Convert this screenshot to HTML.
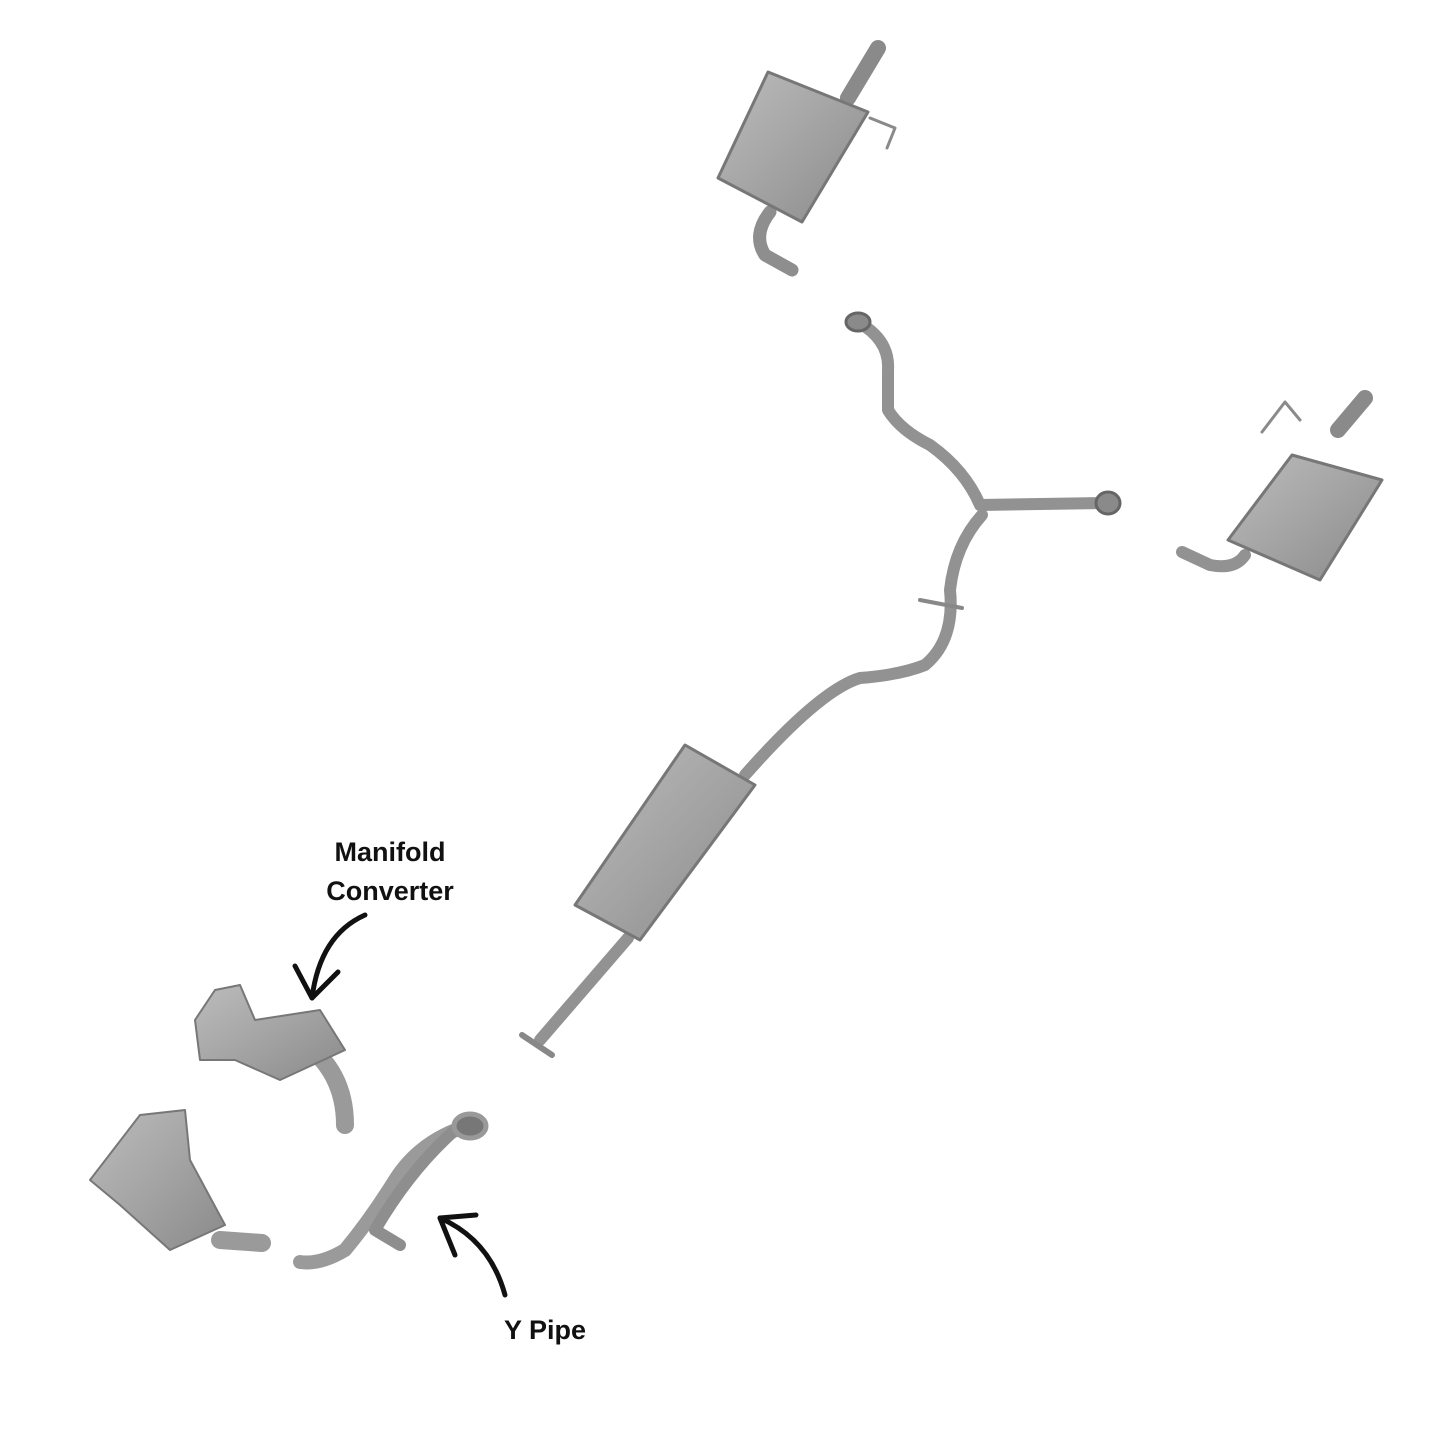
<!DOCTYPE html>
<html><head><meta charset="utf-8"><style>
html,body{margin:0;padding:0;background:#fff;}
svg{display:block}
text{font-family:"Liberation Sans",sans-serif;font-weight:bold;font-size:27px;fill:#111}
</style></head><body>
<svg width="1445" height="1445" viewBox="0 0 1445 1445" xmlns="http://www.w3.org/2000/svg">
<defs>
<linearGradient id="g" x1="0" y1="0" x2="1" y2="1">
<stop offset="0" stop-color="#bcbcbc"/><stop offset="0.5" stop-color="#a4a4a4"/><stop offset="1" stop-color="#8a8a8a"/>
</linearGradient>
</defs>
<g fill="none" stroke-linecap="round" stroke-linejoin="round">
<path d="M848 98 L878 48" stroke="#8a8a8a" stroke-width="16"/>
<path d="M870 118 L895 128 L887 148" stroke="#8a8a8a" stroke-width="3"/>
<path d="M770 212 Q752 235 765 255 L792 270" stroke="#8e8e8e" stroke-width="13"/>
<polygon points="718,178 768,72 868,112 802,222" fill="url(#g)" stroke="#777" stroke-width="3"/>
<path d="M858 322 Q890 340 888 370 L888 410 Q900 430 930 445 Q965 470 980 505 L1105 503" stroke="#929292" stroke-width="12"/>
<path d="M982 515 Q955 545 950 590 Q955 640 925 665 Q900 675 860 678 Q820 690 745 775" stroke="#929292" stroke-width="12"/>
<path d="M920 600 L962 608" stroke="#888" stroke-width="4"/>
<ellipse cx="858" cy="322" rx="12" ry="9" fill="#8a8a8a" stroke="#666" stroke-width="3"/>
<ellipse cx="1108" cy="503" rx="12" ry="11" fill="#8a8a8a" stroke="#666" stroke-width="3"/>
<path d="M628 938 L540 1040" stroke="#929292" stroke-width="12"/>
<path d="M522 1035 L552 1055" stroke="#888" stroke-width="6"/>
<polygon points="575,905 685,745 755,785 640,940" fill="url(#g)" stroke="#777" stroke-width="3"/>
<path d="M1338 430 L1365 398" stroke="#8a8a8a" stroke-width="16"/>
<path d="M1300 420 L1285 402 L1262 432" stroke="#8a8a8a" stroke-width="3"/>
<path d="M1245 555 Q1235 570 1210 565 L1182 552" stroke="#929292" stroke-width="12"/>
<polygon points="1228,540 1292,455 1382,480 1320,580" fill="url(#g)" stroke="#777" stroke-width="3"/>
<path d="M300 1040 Q345 1070 345 1125" stroke="#9a9a9a" stroke-width="18"/>
<polygon points="215,990 240,985 255,1020 320,1010 345,1050 280,1080 235,1060 200,1060 195,1020" fill="url(#g)" stroke="#777" stroke-width="2"/>
<path d="M220 1240 L262 1243" stroke="#9a9a9a" stroke-width="18"/>
<polygon points="90,1180 140,1115 185,1110 190,1160 225,1225 170,1250 120,1205" fill="url(#g)" stroke="#777" stroke-width="2"/>
<path d="M470 1125 Q420 1140 395 1180 Q370 1220 345 1250 Q320 1265 300 1262" stroke="#9a9a9a" stroke-width="14"/>
<path d="M455 1130 Q410 1170 375 1230 L400 1245" stroke="#8e8e8e" stroke-width="12"/>
<ellipse cx="470" cy="1126" rx="16" ry="12" fill="#777" stroke="#999" stroke-width="5"/>
<path d="M365 915 Q320 935 312 998" stroke="#111" stroke-width="5"/>
<path d="M295 966 L312 998 L338 972" stroke="#111" stroke-width="5"/>
<path d="M505 1295 Q490 1240 440 1218" stroke="#111" stroke-width="5"/>
<path d="M476 1215 L440 1218 L455 1255" stroke="#111" stroke-width="5"/>
</g>
<text x="390" y="861" text-anchor="middle">Manifold</text>
<text x="390" y="900" text-anchor="middle">Converter</text>
<text x="545" y="1339" text-anchor="middle">Y Pipe</text>
</svg>
</body></html>
